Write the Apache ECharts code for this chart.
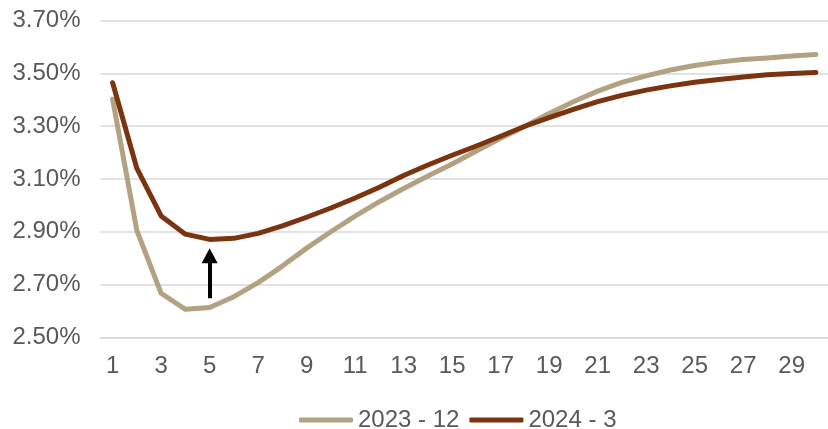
<!DOCTYPE html>
<html>
<head>
<meta charset="utf-8">
<script src="https://cdn.jsdelivr.net/npm/echarts@6/dist/echarts.min.js"></script>
<style>html,body{margin:0;padding:0;background:#fff}#c{width:828px;height:429px}</style>
</head>
<body>
<div id="c"></div>
<script>
const categories = ['1','2','3','4','5','6','7','8','9','10','11','12','13','14','15','16','17','18','19','20','21','22','23','24','25','26','27','28','29','30'];
const s2023_12 = [3.402,2.904,2.667,2.606,2.613,2.654,2.707,2.770,2.838,2.900,2.959,3.014,3.064,3.111,3.157,3.206,3.254,3.300,3.348,3.393,3.433,3.466,3.491,3.513,3.530,3.543,3.553,3.559,3.566,3.572];
const s2024_3 = [3.465,3.140,2.960,2.891,2.871,2.875,2.894,2.922,2.955,2.990,3.028,3.069,3.113,3.153,3.190,3.225,3.262,3.300,3.333,3.364,3.393,3.417,3.437,3.453,3.467,3.477,3.487,3.495,3.500,3.504];
const yTicks = [2.5,2.7,2.9,3.1,3.3,3.5,3.7];
const arrowFrom = ['5', 2.648];
const arrowTo = ['5', 2.809];

const font = '"Liberation Sans", Arial, sans-serif';
const chart = echarts.init(document.getElementById('c'), null, {renderer:'canvas'});
chart.setOption({
  animation: false,
  grid: {left: 100.5, top: 20.7, width: 729.3, bottom: 91.7, containLabel: false},
  xAxis: {
    type: 'category', data: categories, boundaryGap: true,
    axisLine: {show: true, lineStyle: {color: '#D9D9D9', width: 1.5}},
    axisTick: {show: false},
    axisLabel: {interval: 1, color: '#595959', fontFamily: font, fontSize: 24, margin: 17}
  },
  yAxis: {
    type: 'value', min: yTicks[0], max: yTicks[yTicks.length-1], interval: 0.2,
    axisLine: {show: false}, axisTick: {show: false},
    splitLine: {lineStyle: {color: '#D9D9D9', width: 1.5}},
    axisLabel: {color: '#595959', fontFamily: font, fontSize: 24, margin: 20,
      formatter: v => v.toFixed(2) + '%'}
  },
  legend: {
    left: 294, top: 403, itemWidth: 54, itemHeight: 5, itemGap: 10, icon: 'roundRect',
    textStyle: {color: '#595959', fontFamily: font, fontSize: 24},
    data: ['2023 - 12', '2024 - 3']
  },
  series: [
    {name: '2023 - 12', type: 'line', data: s2023_12, showSymbol: false, symbol: 'none',
     color: '#B3A282', lineStyle: {width: 5, color: '#B3A282', cap: 'round', join: 'round'}},
    {name: '2024 - 3', type: 'line', data: s2024_3, showSymbol: false, symbol: 'none',
     color: '#7A3510', lineStyle: {width: 5, color: '#7A3510', cap: 'round', join: 'round'},
     markLine: {silent: true, symbol: ['none', 'triangle'], symbolSize: [16, 15],
       label: {show: false},
       lineStyle: {color: '#000', width: 4, type: 'solid'},
       data: [[{coord: arrowFrom}, {coord: arrowTo}]]}}
  ]
});
</script>
</body>
</html>
